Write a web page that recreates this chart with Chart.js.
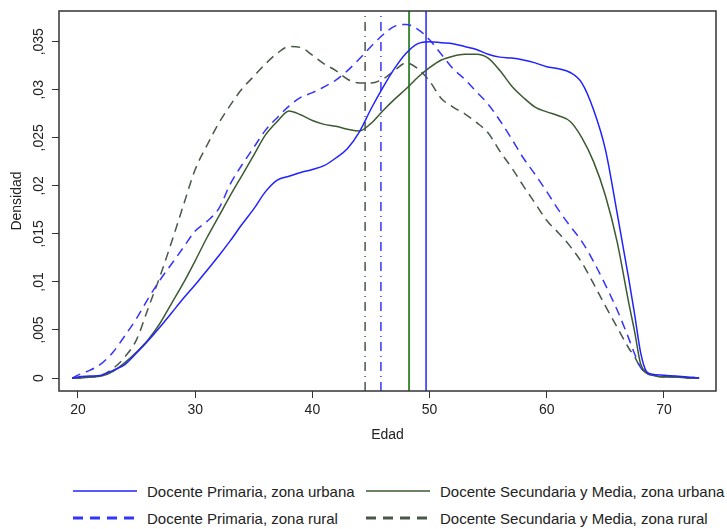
<!DOCTYPE html>
<html>
<head>
<meta charset="utf-8">
<script src="https://cdn.jsdelivr.net/npm/chart.js@4.4.1/dist/chart.umd.min.js"></script>
<style>
  body { margin: 0; background: #fff; }
  #wrap { position: relative; width: 727px; height: 529px; font-family: "Liberation Sans", Arial, sans-serif; }
  #box { position: absolute; left: 0; top: 0; width: 727px; height: 455px; }
  .item { position: absolute; height: 20px; margin-top: -10px; display: flex; align-items: center; font-size: 15px; color: #222; white-space: nowrap; }
  .item svg { margin-right: 10px; }
</style>
</head>
<body>
<div id="wrap">
  <div id="box"><canvas id="chart"></canvas></div>
  <div id="legend"></div>
</div>
<script>
// edad (x) shared by all four density curves
const ages = [19.5, 20, 21, 22, 23, 24, 25, 26, 27, 28, 29, 30, 31, 32, 33, 34, 35, 36, 37, 38, 39,
  40, 41, 42, 43, 44, 45, 46, 47, 48, 49, 50, 51, 52, 53, 54, 55, 56, 57, 58, 59,
  60, 61, 62, 63, 64, 65, 66, 67, 67.5, 68, 68.5, 69, 70, 71, 72, 73];

const primUrbana = [0, 0.0001, 0.0002, 0.0003, 0.0008, 0.0014, 0.0026, 0.0039, 0.0053, 0.0068, 0.0083,
  0.0097, 0.0112, 0.0127, 0.0143, 0.016, 0.0176, 0.0194, 0.0206, 0.021, 0.0214,
  0.0217, 0.0221, 0.0229, 0.0239, 0.0256, 0.028, 0.0302, 0.0322, 0.0338, 0.0348,
  0.035, 0.0349, 0.0348, 0.0345, 0.0342, 0.0337, 0.0334, 0.0333, 0.0331, 0.0328,
  0.0324, 0.0322, 0.0318, 0.0307, 0.0279, 0.0238, 0.0172, 0.0103, 0.0066, 0.0027, 0.0007,
  0.0004, 0.0003, 0.0002, 0.0001, 0];

const secUrbana = [0, 0, 0.0001, 0.0002, 0.0007, 0.0016, 0.0027, 0.004, 0.0057, 0.0078, 0.0099,
  0.0122, 0.0146, 0.0168, 0.019, 0.0211, 0.0232, 0.0253, 0.0267, 0.0278, 0.0274,
  0.0268, 0.0264, 0.0262, 0.0259, 0.0257, 0.0265, 0.0278, 0.029, 0.0301, 0.0313,
  0.0323, 0.0331, 0.0335, 0.0337, 0.0337, 0.0333, 0.032, 0.0304, 0.0292, 0.0282,
  0.0277, 0.0273, 0.0267, 0.025, 0.0225, 0.019, 0.0142, 0.0078, 0.0048, 0.0015, 0.0006,
  0.0003, 0.0001, 0.0001, 0, 0];

const primRural = [0, 0.0003, 0.0008, 0.0015, 0.0027, 0.0044, 0.0062, 0.0083, 0.0102, 0.0119, 0.0136,
  0.0153, 0.0163, 0.0176, 0.0202, 0.0222, 0.024, 0.0258, 0.0271, 0.0283, 0.0292,
  0.0297, 0.0303, 0.031, 0.032, 0.0332, 0.0345, 0.0357, 0.0366, 0.0368, 0.0363,
  0.0352, 0.0337, 0.0322, 0.0311, 0.0298, 0.0285, 0.0268, 0.0249, 0.0229, 0.0212,
  0.0194, 0.0175, 0.0158, 0.0142, 0.0121, 0.0097, 0.0071, 0.0041, 0.0025, 0.0011, 0.0005,
  0.0003, 0.0002, 0.0001, 0.0001, 0];

const secRural = [0, 0, 0.0001, 0.0003, 0.001, 0.0022, 0.004, 0.0073, 0.0106, 0.0142, 0.018,
  0.0217, 0.0242, 0.0265, 0.0284, 0.0301, 0.0314, 0.0327, 0.0338, 0.0345, 0.0344,
  0.0336, 0.0327, 0.032, 0.0311, 0.0307, 0.0307, 0.0311, 0.032, 0.0328, 0.0322,
  0.0309, 0.0291, 0.0282, 0.0275, 0.0266, 0.0255, 0.0236, 0.0219, 0.02, 0.0182,
  0.0164, 0.0151, 0.0137, 0.012, 0.0098, 0.0075, 0.0053, 0.0031, 0.0022, 0.0011, 0.0005,
  0.0003, 0.0001, 0.0001, 0, 0];

// mean age of each group, drawn as vertical lines
const means = [49.7, 48.25, 45.85, 44.5];

const seriesNames = [
  "Docente Primaria, zona urbana",
  "Docente Secundaria y Media, zona urbana",
  "Docente Primaria, zona rural",
  "Docente Secundaria y Media, zona rural",
];
const seriesValues = [primUrbana, secUrbana, primRural, secRural];

const xTicks = [20, 30, 40, 50, 60, 70];
const yTicks = [0, 0.005, 0.01, 0.015, 0.02, 0.025, 0.03, 0.035];
const yTickLabels = ["0", ",005", ",01", ",015", ",02", ",025", ",03", ",035"];

const xRange = [18.38, 74.44];
const yRange = [-0.00135, 0.0382];

// styles
const curveColors = ["#2222ff", "#3b5a32", "#3434ff", "#485848"];
const curveDash = [[], [], [9, 6], [9, 6]];
const meanColors = ["#2222ff", "#3f8a3a", "#3434ff", "#4a564a"];
const meanDash = [[], [], [9, 5, 1, 5], [9, 5, 1, 5]];
const font = "'Liberation Sans', Arial, sans-serif";

const datasets = [];
seriesValues.forEach((vals, i) => {
  datasets.push({
    label: seriesNames[i],
    data: ages.map((a, k) => ({ x: a, y: vals[k] })),
    borderColor: curveColors[i],
    borderDash: curveDash[i],
    borderWidth: 1.5,
    pointRadius: 0,
    cubicInterpolationMode: "monotone",
    fill: false,
  });
});
means.forEach((m, i) => {
  datasets.push({
    label: "media " + seriesNames[i],
    data: [{ x: m, y: yRange[0] }, { x: m, y: yRange[1] }],
    borderColor: meanColors[i],
    borderDash: meanDash[i],
    borderWidth: i === 1 ? 2 : 1.5,
    pointRadius: 0,
    fill: false,
  });
});

const frame = {
  id: "frame",
  afterDraw(chart) {
    const a = chart.chartArea;
    const ctx = chart.ctx;
    ctx.save();
    ctx.strokeStyle = "#333";
    ctx.lineWidth = 1.5;
    ctx.strokeRect(a.left, a.top, a.right - a.left, a.bottom - a.top);
    ctx.restore();
  },
};

new Chart(document.getElementById("chart"), {
  type: "line",
  data: { datasets },
  plugins: [frame],
  options: {
    animation: false,
    responsive: true,
    maintainAspectRatio: false,
    layout: { padding: { top: 11, right: 11, left: 0, bottom: 0 } },
    plugins: { legend: { display: false }, tooltip: { enabled: false } },
    scales: {
      x: {
        type: "linear",
        min: xRange[0],
        max: xRange[1],
        afterBuildTicks: (s) => { s.ticks = xTicks.map((v) => ({ value: v })); },
        afterFit: (s) => { s.height = 64; },
        border: { display: false },
        grid: { drawOnChartArea: false, drawTicks: true, tickLength: 7, color: "#333", lineWidth: 1 },
        ticks: { color: "#222", font: { family: font, size: 14 }, padding: 4, maxRotation: 0, autoSkip: false,
          callback: (v) => String(v) },
        title: { display: true, text: "Edad", color: "#222", font: { family: font, size: 14 }, padding: { top: 0, bottom: 11 } },
      },
      y: {
        min: yRange[0],
        max: yRange[1],
        afterBuildTicks: (s) => { s.ticks = yTicks.map((v) => ({ value: v })); },
        afterFit: (s) => { s.width = 59; },
        border: { display: false },
        grid: { drawOnChartArea: false, drawTicks: true, tickLength: 7, color: "#333", lineWidth: 1 },
        ticks: { color: "#222", font: { family: font, size: 14 }, padding: -1, minRotation: 90, maxRotation: 90,
          crossAlign: "center", autoSkip: false,
          callback: (v) => yTickLabels[yTicks.indexOf(v)] },
        title: { display: true, text: "Densidad", color: "#222", font: { family: font, size: 14 }, padding: { top: 9, bottom: 0 } },
      },
    },
  },
});

// legend in two aligned columns, like the original
const legendPos = [[73, 491], [366, 491], [73, 518], [366, 518]];
const legend = document.getElementById("legend");
seriesNames.forEach((name, i) => {
  const dashed = curveDash[i].length > 0;
  const item = document.createElement("div");
  item.className = "item";
  item.style.left = legendPos[i][0] + "px";
  item.style.top = legendPos[i][1] + "px";
  item.innerHTML =
    '<svg width="64" height="10"><line x1="0" y1="5" x2="64" y2="5" stroke="' + curveColors[i] +
    '" stroke-width="' + (dashed ? 3 : 1.5) + '"' + (dashed ? ' stroke-dasharray="10 7"' : "") + "/></svg>" +
    "<span>" + name + "</span>";
  legend.appendChild(item);
});
</script>
</body>
</html>
